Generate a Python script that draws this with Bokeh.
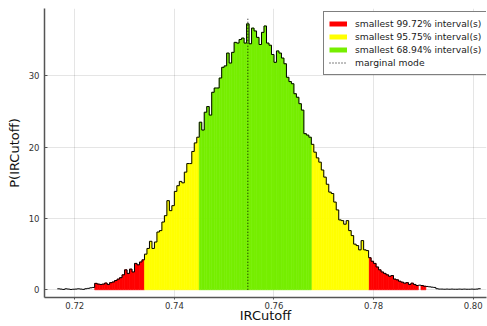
from bokeh.plotting import figure
from bokeh.models import Range1d, Legend, LegendItem, ColumnDataSource, FixedTicker
from bokeh.embed import file_html
from bokeh.resources import INLINE

# ---- data ----
first_edge = 0.7165
bin_width = 0.0005

tail_left = [0.14, 0.10, 0.05, 0.14, 0.10, 0.05, 0.08, 0.10, 0.14, 0.10, 0.06, 0.15, 0.20, 0.28, 0.33]
red_left = [0.90, 0.80, 0.75, 0.80, 0.95, 0.75, 1.00, 1.10, 1.30, 1.50, 1.70, 2.10, 2.80, 2.30, 2.90,
            2.50, 3.70, 3.50, 3.90, 4.20]
yellow_left = [5.0, 5.8, 6.8, 5.8, 6.7, 8.1, 8.3, 9.5, 10.4, 12.5, 11.1, 11.8, 13.8, 14.6, 15.2,
               15.0, 16.5, 17.7, 17.7, 19.4, 20.6, 21.4]
green_mid = [23.5, 22.4, 24.9, 25.7, 24.5, 27.7, 28.3, 28.3, 29.7, 31.2, 31.4, 33.2, 31.8, 33.3, 34.7,
             34.6, 35.1, 35.3, 34.6, 37.3, 34.5, 36.7, 36.3, 35.4, 34.4, 36.1, 37.0, 34.6, 34.3, 33.0,
             31.9, 33.5, 33.2, 32.5, 31.7, 29.8, 29.2, 28.9, 27.5, 27.0, 26.1, 25.2, 21.9, 21.7, 21.4]
yellow_right = [20.4, 19.3, 18.5, 17.9, 16.8, 15.8, 14.8, 13.7, 13.5, 12.3, 11.2, 9.8, 9.7, 9.2, 9.7,
                8.3, 7.6, 6.4, 6.2, 5.6, 6.9, 5.6, 5.5]
red_right = [4.5, 4.0, 3.7, 3.2, 2.8, 2.5, 2.3, 2.1, 1.9, 2.0, 1.5, 1.4, 1.2, 1.07, 0.93, 1.0, 0.75,
             0.93, 0.75, 0.6]
gap_bin = [0.65]
red_right_b = [0.6, 0.5]
tail_right = [0.47, 0.42, 0.37, 0.33, 0.15, 0.10, 0.10, 0.08, 0.10, 0.08, 0.10, 0.08, 0.08, 0.10, 0.08,
              0.10, 0.08, 0.08, 0.10, 0.08, 0.10, 0.15]

segments = [
    (tail_left, None), (red_left, "r99"), (yellow_left, "r95"), (green_mid, "r68"),
    (yellow_right, "r95"), (red_right, "r99"), (gap_bin, None), (red_right_b, "r99"), (tail_right, None),
]

mode_x = 0.75475

interval_labels = {"r99": "smallest 99.72% interval(s)",
                   "r95": "smallest 95.75% interval(s)",
                   "r68": "smallest 68.94% interval(s)"}
interval_colors = {"r99": "#ff0000", "r95": "#ffff00", "r68": "#76ee00"}

x_ticks = [0.72, 0.74, 0.76, 0.78, 0.80]
x_tick_labels = ["0.72", "0.74", "0.76", "0.78", "0.80"]
y_ticks = [0, 10, 20, 30]
x_label = "IRCutoff"
y_label = "P(IRCutoff)"

# ---- assemble bins ----
density, region = [], []
for vals, reg in segments:
    density += vals
    region += [reg] * len(vals)
n = len(density)
lefts = [first_edge + i * bin_width for i in range(n)]
rights = [first_edge + (i + 1) * bin_width for i in range(n)]

x0, x1 = 0.713928, 0.80267
y0, y1 = -1.08, 39.45
p = figure(width=487, height=326, output_backend="svg", toolbar_location=None, title=None,
           x_range=Range1d(x0, x1), y_range=Range1d(y0, y1),
           min_border_left=44, min_border_right=1, min_border_top=8, min_border_bottom=29)
p.outline_line_color = None
p.background_fill_color = "white"

for key in ["r99", "r95", "r68"]:
    idx = [i for i in range(n) if region[i] == key]
    src = ColumnDataSource(dict(left=[lefts[i] for i in idx], right=[rights[i] for i in idx],
                                top=[density[i] for i in idx], bottom=[0] * len(idx)))
    p.quad(left="left", right="right", top="top", bottom="bottom", source=src,
           fill_color=interval_colors[key], line_color=interval_colors[key], line_width=0.6)

# outline of the whole histogram
edges = lefts + [rights[-1]]
p.step(x=edges, y=density + [density[-1]], mode="after", line_color="black", line_width=1)

# marginal mode
mode_top = max(density) * 1.025
p.line(x=[mode_x, mode_x], y=[0, mode_top], line_color="black", line_width=1.1,
       line_dash="1 2", line_alpha=0.85)

# legend proxies (not visible in the plot area)
nan = float("nan")
proxies = {}
for key in ["r99", "r95", "r68"]:
    proxies[key] = p.line(x=[nan, nan], y=[nan, nan], line_color=interval_colors[key], line_width=5,
                          line_cap="butt")
mode_proxy = p.line(x=[nan, nan], y=[nan, nan], line_color="black", line_width=1, line_dash="1 2")

items = [LegendItem(label=interval_labels[k], renderers=[proxies[k]]) for k in ["r99", "r95", "r68"]]
items.append(LegendItem(label="marginal mode", renderers=[mode_proxy]))
legend = Legend(items=items, location=(279, 222), orientation="vertical")
legend.border_line_color = "black"
legend.border_line_width = 1
legend.background_fill_alpha = 1
legend.padding = 5
legend.margin = 0
legend.spacing = 0
legend.glyph_width = 18
legend.glyph_height = 13
legend.label_height = 13
legend.label_standoff = 8
legend.label_text_font = "DejaVu Sans"
legend.label_text_font_size = "9.2px"
legend.label_text_color = "#1a1a1a"
p.add_layout(legend, "center")

# axes
for ax in [p.xaxis[0], p.yaxis[0]]:
    ax.axis_line_color = "#555555"
    ax.axis_line_width = 1.5
    ax.major_tick_line_color = "#555555"
    ax.minor_tick_line_color = None
    ax.major_label_text_font = "DejaVu Sans"
    ax.major_label_text_font_size = "8.5px"
    ax.major_label_text_color = "#333333"
    ax.axis_label_text_font = "DejaVu Sans"
    ax.axis_label_text_font_size = "13px"
    ax.axis_label_text_font_style = "normal"
    ax.axis_label_text_color = "#111111"

p.xaxis.ticker = FixedTicker(ticks=x_ticks)
p.xaxis.major_label_overrides = {t: l for t, l in zip(x_ticks, x_tick_labels)}
p.xaxis.axis_label = x_label
p.xaxis.major_tick_in = 0
p.xaxis.major_tick_out = 2
p.xaxis.major_label_standoff = 2
p.xaxis.axis_label_standoff = -4

p.yaxis.ticker = FixedTicker(ticks=y_ticks)
p.yaxis.axis_label = y_label
p.yaxis.major_tick_in = 3
p.yaxis.major_tick_out = 0
p.yaxis.major_label_standoff = 5
p.yaxis.axis_label_standoff = 4

p.xgrid.ticker = FixedTicker(ticks=x_ticks)
p.ygrid.ticker = FixedTicker(ticks=y_ticks)
p.grid.grid_line_color = "black"
p.grid.grid_line_alpha = 0.1

open("out.html", "w").write(file_html(p, INLINE))
